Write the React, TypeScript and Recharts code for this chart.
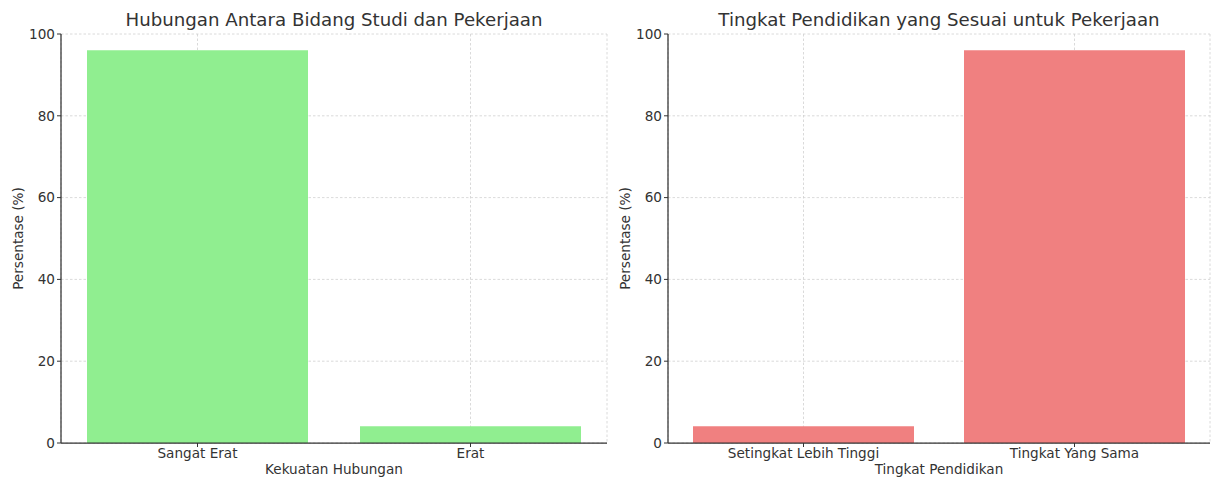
import React from 'react';
import { BarChart, Bar, XAxis, YAxis, CartesianGrid } from 'recharts';

const leftCategories = ['Sangat Erat', 'Erat'];
const leftValues = [96, 4.1];
const rightCategories = ['Setingkat Lebih Tinggi', 'Tingkat Yang Sama'];
const rightValues = [4.1, 96];
const yTicks = [0, 20, 40, 60, 80, 100];

const leftTitle = 'Hubungan Antara Bidang Studi dan Pekerjaan';
const rightTitle = 'Tingkat Pendidikan yang Sesuai untuk Pekerjaan';
const leftXLabel = 'Kekuatan Hubungan';
const rightXLabel = 'Tingkat Pendidikan';
const yLabel = 'Persentase (%)';

const FONT = 'DejaVu Sans, sans-serif';
const TEXT = '#333333';
const FS = 13.6;

const leftData = leftCategories.map((name, i) => ({ name, value: leftValues[i] }));
const rightData = rightCategories.map((name, i) => ({ name, value: rightValues[i] }));

type PanelProps = {
  data: { name: string; value: number }[];
  color: string;
  xLabel: string;
  title: string;
  width: number;
  left: number;
  rightMargin: number;
};

function Panel({ data, color, xLabel, title, width, left, rightMargin }: PanelProps) {
  const xLabelContent = (props: any) => {
    const vb = props.viewBox || {};
    return (
      <text x={vb.x + vb.width / 2} y={474} textAnchor="middle" fill={TEXT} fontSize={FS} fontFamily={FONT}>
        {xLabel}
      </text>
    );
  };
  const yLabelContent = (props: any) => {
    const vb = props.viewBox || {};
    const cx = 18;
    const cy = vb.y + vb.height / 2;
    return (
      <text x={cx} y={cy} transform={`rotate(-90, ${cx}, ${cy})`} textAnchor="middle" dominantBaseline="central" fill={TEXT} fontSize={FS} fontFamily={FONT}>
        {yLabel}
      </text>
    );
  };
  const plotLeft = 61;
  const plotRight = width - rightMargin;
  return (
    <div style={{ position: 'absolute', left, top: 0, width, height: 479 }}>
      <BarChart width={width} height={479} data={data} margin={{ top: 34, right: rightMargin, bottom: 0, left: 0 }}>
        <XAxis
          dataKey="name"
          interval={0}
          height={36}
          tickSize={4}
          tickMargin={1}
          axisLine={{ stroke: TEXT, strokeWidth: 1.25 }}
          tickLine={{ stroke: TEXT, strokeWidth: 1 }}
          tick={{ fill: TEXT, fontSize: FS, fontFamily: FONT }}
          label={xLabelContent}
        />
        <YAxis
          width={61}
          domain={[0, 100]}
          ticks={yTicks}
          tickSize={4}
          tickMargin={2}
          axisLine={{ stroke: TEXT, strokeWidth: 1.25 }}
          tickLine={{ stroke: TEXT, strokeWidth: 1 }}
          tick={{ fill: TEXT, fontSize: FS, fontFamily: FONT }}
          label={yLabelContent}
        />
        <Bar dataKey="value" fill={color} barSize={221} isAnimationActive={false} />
        <CartesianGrid stroke="#d0d0d0" strokeDasharray="2.5 2" strokeWidth={0.8} />
      </BarChart>
      <svg width={width} height={40} style={{ position: 'absolute', left: 0, top: 0, pointerEvents: 'none' }}>
        <text x={(plotLeft + plotRight) / 2} y={26} textAnchor="middle" fill={TEXT} fontSize={18.2} fontFamily={FONT}>
          {title}
        </text>
      </svg>
    </div>
  );
}

export default function App() {
  return (
    <div style={{ position: 'absolute', left: 0, top: 0, width: 1212, height: 479, background: '#ffffff', overflow: 'hidden' }}>
      <Panel data={leftData} color="#90EE90" xLabel={leftXLabel} title={leftTitle} width={610} left={0} rightMargin={3} />
      <Panel data={rightData} color="#F08080" xLabel={rightXLabel} title={rightTitle} width={605} left={607} rightMargin={2} />
    </div>
  );
}
